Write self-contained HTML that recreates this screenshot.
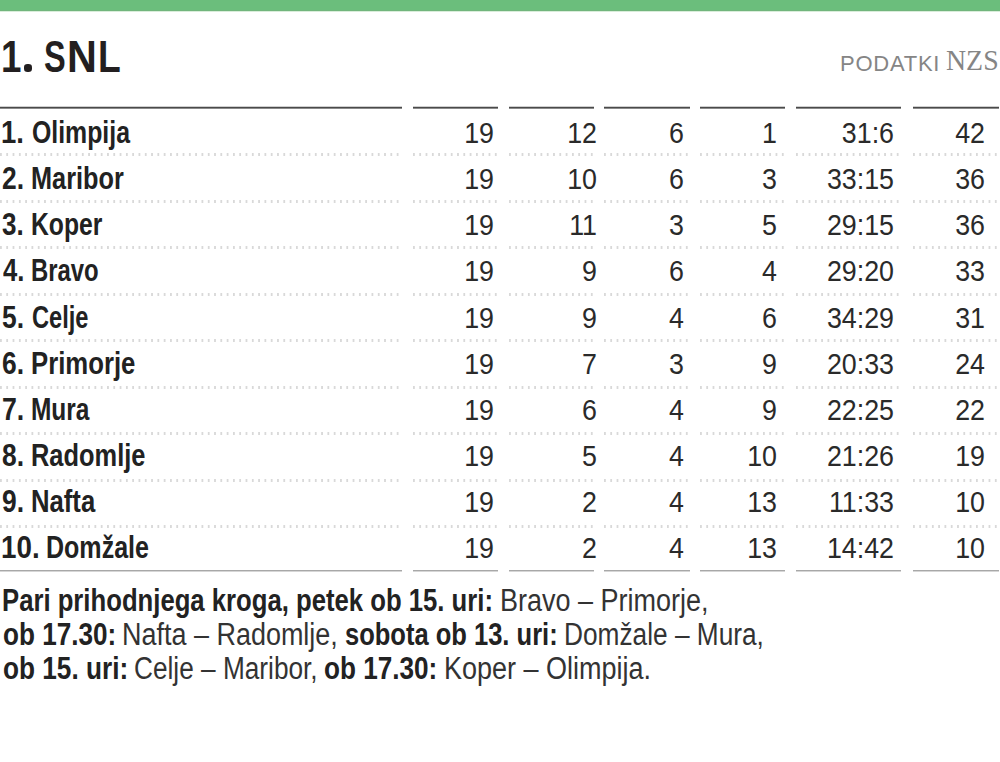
<!DOCTYPE html>
<html><head><meta charset="utf-8"><style>
html,body{margin:0;padding:0;background:#fff;}
body{width:1000px;height:762px;position:relative;overflow:hidden;font-family:"Liberation Sans",sans-serif;}
.a{position:absolute;white-space:nowrap;transform-origin:0 0;}
.bar{left:0;top:0;width:1000px;height:12px;background:linear-gradient(#6bbe7c 0 10px,#71b57c 10px 11px,#d9edda 11px 12px);}
.hl{height:3px;background:linear-gradient(#cfcfcf 0 1px,#4a4a4a 1px 2px,#8a8a8a 2px 3px);}
.dl{height:3px;background-image:linear-gradient(90deg,#d9d9d9 0,#d9d9d9 2px,transparent 2px);background-size:6.3px 3px;}
.bl{height:2px;background:linear-gradient(#a8a8a8 0 1px,#d6d6d6 1px 2px);}
.nu{color:#2a2a2a;transform-origin:100% 0;text-align:right;}
</style></head><body>
<div class="a bar"></div>
<div class="a" style="left:24.3px;top:64.3px;width:7.8px;height:7.3px;border-radius:45%;background:#231f20"></div>
<div class="a" style="left:0.69px;top:35.35px;font:bold 44.0px/44.0px 'Liberation Sans',sans-serif;transform:scaleX(0.8352);color:#231f20">1</div>
<div class="a" style="left:43.76px;top:35.35px;font:bold 44.0px/44.0px 'Liberation Sans',sans-serif;transform:scaleX(0.7397);color:#231f20">S</div>
<div class="a" style="left:66.53px;top:35.35px;font:bold 44.0px/44.0px 'Liberation Sans',sans-serif;transform:scaleX(0.9394);color:#231f20">N</div>
<div class="a" style="left:97.91px;top:35.35px;font:bold 44.0px/44.0px 'Liberation Sans',sans-serif;transform:scaleX(0.8459);color:#231f20">L</div>
<div class="a" style="left:840px;top:53.28px;font-size:22.0px;line-height:22.0px;color:#858585;letter-spacing:0.75px">PODATKI</div>
<div class="a" style="left:946.44px;top:45.35px;font:normal 30.3px/30.3px 'Liberation Serif',serif;transform:scaleX(0.9193);color:#858585;">NZS</div>
<div class="a hl" style="left:0px;top:106px;width:402px"></div>
<div class="a hl" style="left:413px;top:106px;width:85px"></div>
<div class="a hl" style="left:509px;top:106px;width:85px"></div>
<div class="a hl" style="left:604px;top:106px;width:86px"></div>
<div class="a hl" style="left:700px;top:106px;width:85px"></div>
<div class="a hl" style="left:796px;top:106px;width:105px"></div>
<div class="a hl" style="left:913px;top:106px;width:86px"></div>
<div class="a" style="left:1.35px;top:116.76px;font:bold 31.0px/31.0px 'Liberation Sans',sans-serif;transform:scaleX(0.8862);color:#222;">1.</div>
<div class="a" style="left:31.51px;top:116.76px;font:bold 31.0px/31.0px 'Liberation Sans',sans-serif;transform:scaleX(0.8009);color:#222;">Olimpija</div>
<div class="a nu" style="left:374px;width:120px;top:117.27px;font-size:30.4px;line-height:30.4px;transform:scaleX(0.882)">19</div>
<div class="a nu" style="left:477px;width:120px;top:117.27px;font-size:30.4px;line-height:30.4px;transform:scaleX(0.882)">12</div>
<div class="a nu" style="left:564px;width:120px;top:117.27px;font-size:30.4px;line-height:30.4px;transform:scaleX(0.882)">6</div>
<div class="a nu" style="left:657px;width:120px;top:117.27px;font-size:30.4px;line-height:30.4px;transform:scaleX(0.882)">1</div>
<div class="a nu" style="left:774px;width:120px;top:117.27px;font-size:30.4px;line-height:30.4px;transform:scaleX(0.882)">31:6</div>
<div class="a nu" style="left:865px;width:120px;top:117.27px;font-size:30.4px;line-height:30.4px;transform:scaleX(0.882)">42</div>
<div class="a dl" style="left:0px;top:153.3px;width:402px"></div>
<div class="a dl" style="left:413px;top:153.3px;width:85px"></div>
<div class="a dl" style="left:509px;top:153.3px;width:85px"></div>
<div class="a dl" style="left:604px;top:153.3px;width:86px"></div>
<div class="a dl" style="left:700px;top:153.3px;width:85px"></div>
<div class="a dl" style="left:796px;top:153.3px;width:105px"></div>
<div class="a dl" style="left:913px;top:153.3px;width:86px"></div>
<div class="a" style="left:2.21px;top:162.76px;font:bold 31.0px/31.0px 'Liberation Sans',sans-serif;transform:scaleX(0.8501);color:#222;">2.</div>
<div class="a" style="left:30.98px;top:162.76px;font:bold 31.0px/31.0px 'Liberation Sans',sans-serif;transform:scaleX(0.8159);color:#222;">Maribor</div>
<div class="a nu" style="left:374px;width:120px;top:163.27px;font-size:30.4px;line-height:30.4px;transform:scaleX(0.882)">19</div>
<div class="a nu" style="left:477px;width:120px;top:163.27px;font-size:30.4px;line-height:30.4px;transform:scaleX(0.882)">10</div>
<div class="a nu" style="left:564px;width:120px;top:163.27px;font-size:30.4px;line-height:30.4px;transform:scaleX(0.882)">6</div>
<div class="a nu" style="left:657px;width:120px;top:163.27px;font-size:30.4px;line-height:30.4px;transform:scaleX(0.882)">3</div>
<div class="a nu" style="left:774px;width:120px;top:163.27px;font-size:30.4px;line-height:30.4px;transform:scaleX(0.882)">33:15</div>
<div class="a nu" style="left:865px;width:120px;top:163.27px;font-size:30.4px;line-height:30.4px;transform:scaleX(0.882)">36</div>
<div class="a dl" style="left:0px;top:199.8px;width:402px"></div>
<div class="a dl" style="left:413px;top:199.8px;width:85px"></div>
<div class="a dl" style="left:509px;top:199.8px;width:85px"></div>
<div class="a dl" style="left:604px;top:199.8px;width:86px"></div>
<div class="a dl" style="left:700px;top:199.8px;width:85px"></div>
<div class="a dl" style="left:796px;top:199.8px;width:105px"></div>
<div class="a dl" style="left:913px;top:199.8px;width:86px"></div>
<div class="a" style="left:2.48px;top:208.76px;font:bold 31.0px/31.0px 'Liberation Sans',sans-serif;transform:scaleX(0.8387);color:#222;">3.</div>
<div class="a" style="left:31.02px;top:208.76px;font:bold 31.0px/31.0px 'Liberation Sans',sans-serif;transform:scaleX(0.7973);color:#222;">Koper</div>
<div class="a nu" style="left:374px;width:120px;top:209.27px;font-size:30.4px;line-height:30.4px;transform:scaleX(0.882)">19</div>
<div class="a nu" style="left:477px;width:120px;top:209.27px;font-size:30.4px;line-height:30.4px;transform:scaleX(0.882)">11</div>
<div class="a nu" style="left:564px;width:120px;top:209.27px;font-size:30.4px;line-height:30.4px;transform:scaleX(0.882)">3</div>
<div class="a nu" style="left:657px;width:120px;top:209.27px;font-size:30.4px;line-height:30.4px;transform:scaleX(0.882)">5</div>
<div class="a nu" style="left:774px;width:120px;top:209.27px;font-size:30.4px;line-height:30.4px;transform:scaleX(0.882)">29:15</div>
<div class="a nu" style="left:865px;width:120px;top:209.27px;font-size:30.4px;line-height:30.4px;transform:scaleX(0.882)">36</div>
<div class="a dl" style="left:0px;top:246.3px;width:402px"></div>
<div class="a dl" style="left:413px;top:246.3px;width:85px"></div>
<div class="a dl" style="left:509px;top:246.3px;width:85px"></div>
<div class="a dl" style="left:604px;top:246.3px;width:86px"></div>
<div class="a dl" style="left:700px;top:246.3px;width:85px"></div>
<div class="a dl" style="left:796px;top:246.3px;width:105px"></div>
<div class="a dl" style="left:913px;top:246.3px;width:86px"></div>
<div class="a" style="left:2.74px;top:254.76px;font:bold 31.0px/31.0px 'Liberation Sans',sans-serif;transform:scaleX(0.8276);color:#222;">4.</div>
<div class="a" style="left:31.07px;top:254.76px;font:bold 31.0px/31.0px 'Liberation Sans',sans-serif;transform:scaleX(0.7701);color:#222;">Bravo</div>
<div class="a nu" style="left:374px;width:120px;top:255.27px;font-size:30.4px;line-height:30.4px;transform:scaleX(0.882)">19</div>
<div class="a nu" style="left:477px;width:120px;top:255.27px;font-size:30.4px;line-height:30.4px;transform:scaleX(0.882)">9</div>
<div class="a nu" style="left:564px;width:120px;top:255.27px;font-size:30.4px;line-height:30.4px;transform:scaleX(0.882)">6</div>
<div class="a nu" style="left:657px;width:120px;top:255.27px;font-size:30.4px;line-height:30.4px;transform:scaleX(0.882)">4</div>
<div class="a nu" style="left:774px;width:120px;top:255.27px;font-size:30.4px;line-height:30.4px;transform:scaleX(0.882)">29:20</div>
<div class="a nu" style="left:865px;width:120px;top:255.27px;font-size:30.4px;line-height:30.4px;transform:scaleX(0.882)">33</div>
<div class="a dl" style="left:0px;top:292.8px;width:402px"></div>
<div class="a dl" style="left:413px;top:292.8px;width:85px"></div>
<div class="a dl" style="left:509px;top:292.8px;width:85px"></div>
<div class="a dl" style="left:604px;top:292.8px;width:86px"></div>
<div class="a dl" style="left:700px;top:292.8px;width:85px"></div>
<div class="a dl" style="left:796px;top:292.8px;width:105px"></div>
<div class="a dl" style="left:913px;top:292.8px;width:86px"></div>
<div class="a" style="left:2.21px;top:301.76px;font:bold 31.0px/31.0px 'Liberation Sans',sans-serif;transform:scaleX(0.8501);color:#222;">5.</div>
<div class="a" style="left:31.56px;top:301.76px;font:bold 31.0px/31.0px 'Liberation Sans',sans-serif;transform:scaleX(0.7620);color:#222;">Celje</div>
<div class="a nu" style="left:374px;width:120px;top:302.27px;font-size:30.4px;line-height:30.4px;transform:scaleX(0.882)">19</div>
<div class="a nu" style="left:477px;width:120px;top:302.27px;font-size:30.4px;line-height:30.4px;transform:scaleX(0.882)">9</div>
<div class="a nu" style="left:564px;width:120px;top:302.27px;font-size:30.4px;line-height:30.4px;transform:scaleX(0.882)">4</div>
<div class="a nu" style="left:657px;width:120px;top:302.27px;font-size:30.4px;line-height:30.4px;transform:scaleX(0.882)">6</div>
<div class="a nu" style="left:774px;width:120px;top:302.27px;font-size:30.4px;line-height:30.4px;transform:scaleX(0.882)">34:29</div>
<div class="a nu" style="left:865px;width:120px;top:302.27px;font-size:30.4px;line-height:30.4px;transform:scaleX(0.882)">31</div>
<div class="a dl" style="left:0px;top:339.3px;width:402px"></div>
<div class="a dl" style="left:413px;top:339.3px;width:85px"></div>
<div class="a dl" style="left:509px;top:339.3px;width:85px"></div>
<div class="a dl" style="left:604px;top:339.3px;width:86px"></div>
<div class="a dl" style="left:700px;top:339.3px;width:85px"></div>
<div class="a dl" style="left:796px;top:339.3px;width:105px"></div>
<div class="a dl" style="left:913px;top:339.3px;width:86px"></div>
<div class="a" style="left:2.21px;top:347.76px;font:bold 31.0px/31.0px 'Liberation Sans',sans-serif;transform:scaleX(0.8501);color:#222;">6.</div>
<div class="a" style="left:30.96px;top:347.76px;font:bold 31.0px/31.0px 'Liberation Sans',sans-serif;transform:scaleX(0.8302);color:#222;">Primorje</div>
<div class="a nu" style="left:374px;width:120px;top:348.27px;font-size:30.4px;line-height:30.4px;transform:scaleX(0.882)">19</div>
<div class="a nu" style="left:477px;width:120px;top:348.27px;font-size:30.4px;line-height:30.4px;transform:scaleX(0.882)">7</div>
<div class="a nu" style="left:564px;width:120px;top:348.27px;font-size:30.4px;line-height:30.4px;transform:scaleX(0.882)">3</div>
<div class="a nu" style="left:657px;width:120px;top:348.27px;font-size:30.4px;line-height:30.4px;transform:scaleX(0.882)">9</div>
<div class="a nu" style="left:774px;width:120px;top:348.27px;font-size:30.4px;line-height:30.4px;transform:scaleX(0.882)">20:33</div>
<div class="a nu" style="left:865px;width:120px;top:348.27px;font-size:30.4px;line-height:30.4px;transform:scaleX(0.882)">24</div>
<div class="a dl" style="left:0px;top:385.8px;width:402px"></div>
<div class="a dl" style="left:413px;top:385.8px;width:85px"></div>
<div class="a dl" style="left:509px;top:385.8px;width:85px"></div>
<div class="a dl" style="left:604px;top:385.8px;width:86px"></div>
<div class="a dl" style="left:700px;top:385.8px;width:85px"></div>
<div class="a dl" style="left:796px;top:385.8px;width:105px"></div>
<div class="a dl" style="left:913px;top:385.8px;width:86px"></div>
<div class="a" style="left:1.93px;top:393.76px;font:bold 31.0px/31.0px 'Liberation Sans',sans-serif;transform:scaleX(0.8618);color:#222;">7.</div>
<div class="a" style="left:31.03px;top:393.76px;font:bold 31.0px/31.0px 'Liberation Sans',sans-serif;transform:scaleX(0.7889);color:#222;">Mura</div>
<div class="a nu" style="left:374px;width:120px;top:394.27px;font-size:30.4px;line-height:30.4px;transform:scaleX(0.882)">19</div>
<div class="a nu" style="left:477px;width:120px;top:394.27px;font-size:30.4px;line-height:30.4px;transform:scaleX(0.882)">6</div>
<div class="a nu" style="left:564px;width:120px;top:394.27px;font-size:30.4px;line-height:30.4px;transform:scaleX(0.882)">4</div>
<div class="a nu" style="left:657px;width:120px;top:394.27px;font-size:30.4px;line-height:30.4px;transform:scaleX(0.882)">9</div>
<div class="a nu" style="left:774px;width:120px;top:394.27px;font-size:30.4px;line-height:30.4px;transform:scaleX(0.882)">22:25</div>
<div class="a nu" style="left:865px;width:120px;top:394.27px;font-size:30.4px;line-height:30.4px;transform:scaleX(0.882)">22</div>
<div class="a dl" style="left:0px;top:432.3px;width:402px"></div>
<div class="a dl" style="left:413px;top:432.3px;width:85px"></div>
<div class="a dl" style="left:509px;top:432.3px;width:85px"></div>
<div class="a dl" style="left:604px;top:432.3px;width:86px"></div>
<div class="a dl" style="left:700px;top:432.3px;width:85px"></div>
<div class="a dl" style="left:796px;top:432.3px;width:105px"></div>
<div class="a dl" style="left:913px;top:432.3px;width:86px"></div>
<div class="a" style="left:2.21px;top:439.76px;font:bold 31.0px/31.0px 'Liberation Sans',sans-serif;transform:scaleX(0.8501);color:#222;">8.</div>
<div class="a" style="left:30.98px;top:439.76px;font:bold 31.0px/31.0px 'Liberation Sans',sans-serif;transform:scaleX(0.8198);color:#222;">Radomlje</div>
<div class="a nu" style="left:374px;width:120px;top:440.27px;font-size:30.4px;line-height:30.4px;transform:scaleX(0.882)">19</div>
<div class="a nu" style="left:477px;width:120px;top:440.27px;font-size:30.4px;line-height:30.4px;transform:scaleX(0.882)">5</div>
<div class="a nu" style="left:564px;width:120px;top:440.27px;font-size:30.4px;line-height:30.4px;transform:scaleX(0.882)">4</div>
<div class="a nu" style="left:657px;width:120px;top:440.27px;font-size:30.4px;line-height:30.4px;transform:scaleX(0.882)">10</div>
<div class="a nu" style="left:774px;width:120px;top:440.27px;font-size:30.4px;line-height:30.4px;transform:scaleX(0.882)">21:26</div>
<div class="a nu" style="left:865px;width:120px;top:440.27px;font-size:30.4px;line-height:30.4px;transform:scaleX(0.882)">19</div>
<div class="a dl" style="left:0px;top:478.8px;width:402px"></div>
<div class="a dl" style="left:413px;top:478.8px;width:85px"></div>
<div class="a dl" style="left:509px;top:478.8px;width:85px"></div>
<div class="a dl" style="left:604px;top:478.8px;width:86px"></div>
<div class="a dl" style="left:700px;top:478.8px;width:85px"></div>
<div class="a dl" style="left:796px;top:478.8px;width:105px"></div>
<div class="a dl" style="left:913px;top:478.8px;width:86px"></div>
<div class="a" style="left:2.21px;top:485.76px;font:bold 31.0px/31.0px 'Liberation Sans',sans-serif;transform:scaleX(0.8501);color:#222;">9.</div>
<div class="a" style="left:30.96px;top:485.76px;font:bold 31.0px/31.0px 'Liberation Sans',sans-serif;transform:scaleX(0.8280);color:#222;">Nafta</div>
<div class="a nu" style="left:374px;width:120px;top:486.27px;font-size:30.4px;line-height:30.4px;transform:scaleX(0.882)">19</div>
<div class="a nu" style="left:477px;width:120px;top:486.27px;font-size:30.4px;line-height:30.4px;transform:scaleX(0.882)">2</div>
<div class="a nu" style="left:564px;width:120px;top:486.27px;font-size:30.4px;line-height:30.4px;transform:scaleX(0.882)">4</div>
<div class="a nu" style="left:657px;width:120px;top:486.27px;font-size:30.4px;line-height:30.4px;transform:scaleX(0.882)">13</div>
<div class="a nu" style="left:774px;width:120px;top:486.27px;font-size:30.4px;line-height:30.4px;transform:scaleX(0.882)">11:33</div>
<div class="a nu" style="left:865px;width:120px;top:486.27px;font-size:30.4px;line-height:30.4px;transform:scaleX(0.882)">10</div>
<div class="a dl" style="left:0px;top:525.3px;width:402px"></div>
<div class="a dl" style="left:413px;top:525.3px;width:85px"></div>
<div class="a dl" style="left:509px;top:525.3px;width:85px"></div>
<div class="a dl" style="left:604px;top:525.3px;width:86px"></div>
<div class="a dl" style="left:700px;top:525.3px;width:85px"></div>
<div class="a dl" style="left:796px;top:525.3px;width:105px"></div>
<div class="a dl" style="left:913px;top:525.3px;width:86px"></div>
<div class="a" style="left:1.08px;top:531.76px;font:bold 31.0px/31.0px 'Liberation Sans',sans-serif;transform:scaleX(0.8957);color:#222;">10.</div>
<div class="a" style="left:45.70px;top:531.76px;font:bold 31.0px/31.0px 'Liberation Sans',sans-serif;transform:scaleX(0.8076);color:#222;">Domžale</div>
<div class="a nu" style="left:374px;width:120px;top:532.27px;font-size:30.4px;line-height:30.4px;transform:scaleX(0.882)">19</div>
<div class="a nu" style="left:477px;width:120px;top:532.27px;font-size:30.4px;line-height:30.4px;transform:scaleX(0.882)">2</div>
<div class="a nu" style="left:564px;width:120px;top:532.27px;font-size:30.4px;line-height:30.4px;transform:scaleX(0.882)">4</div>
<div class="a nu" style="left:657px;width:120px;top:532.27px;font-size:30.4px;line-height:30.4px;transform:scaleX(0.882)">13</div>
<div class="a nu" style="left:774px;width:120px;top:532.27px;font-size:30.4px;line-height:30.4px;transform:scaleX(0.882)">14:42</div>
<div class="a nu" style="left:865px;width:120px;top:532.27px;font-size:30.4px;line-height:30.4px;transform:scaleX(0.882)">10</div>
<div class="a bl" style="left:0px;top:569.5px;width:402px"></div>
<div class="a bl" style="left:413px;top:569.5px;width:85px"></div>
<div class="a bl" style="left:509px;top:569.5px;width:85px"></div>
<div class="a bl" style="left:604px;top:569.5px;width:86px"></div>
<div class="a bl" style="left:700px;top:569.5px;width:85px"></div>
<div class="a bl" style="left:796px;top:569.5px;width:105px"></div>
<div class="a bl" style="left:913px;top:569.5px;width:86px"></div>
<div class="a" style="left:2.46px;top:584.86px;font:bold 31.0px/31.0px 'Liberation Sans',sans-serif;transform:scaleX(0.8285);color:#222;">Pari prihodnjega kroga, petek ob 15. uri:</div>
<div class="a" style="left:500.34px;top:584.86px;font:normal 31.0px/31.0px 'Liberation Sans',sans-serif;transform:scaleX(0.8708);color:#333;">Bravo – Primorje,</div>
<div class="a" style="left:2.52px;top:618.96px;font:bold 31.0px/31.0px 'Liberation Sans',sans-serif;transform:scaleX(0.8417);color:#222;">ob 17.30:</div>
<div class="a" style="left:121.54px;top:618.96px;font:normal 31.0px/31.0px 'Liberation Sans',sans-serif;transform:scaleX(0.8698);color:#333;">Nafta – Radomlje,</div>
<div class="a" style="left:344.73px;top:618.96px;font:bold 31.0px/31.0px 'Liberation Sans',sans-serif;transform:scaleX(0.8231);color:#222;">sobota ob 13. uri:</div>
<div class="a" style="left:564.40px;top:618.96px;font:normal 31.0px/31.0px 'Liberation Sans',sans-serif;transform:scaleX(0.8470);color:#333;">Domžale – Mura,</div>
<div class="a" style="left:2.51px;top:653.06px;font:bold 31.0px/31.0px 'Liberation Sans',sans-serif;transform:scaleX(0.8447);color:#222;">ob 15. uri:</div>
<div class="a" style="left:133.69px;top:653.06px;font:normal 31.0px/31.0px 'Liberation Sans',sans-serif;transform:scaleX(0.8458);color:#333;">Celje – Maribor,</div>
<div class="a" style="left:324.22px;top:653.06px;font:bold 31.0px/31.0px 'Liberation Sans',sans-serif;transform:scaleX(0.8425);color:#222;">ob 17.30:</div>
<div class="a" style="left:444.34px;top:653.06px;font:normal 31.0px/31.0px 'Liberation Sans',sans-serif;transform:scaleX(0.8707);color:#333;">Koper – Olimpija.</div>
</body></html>
